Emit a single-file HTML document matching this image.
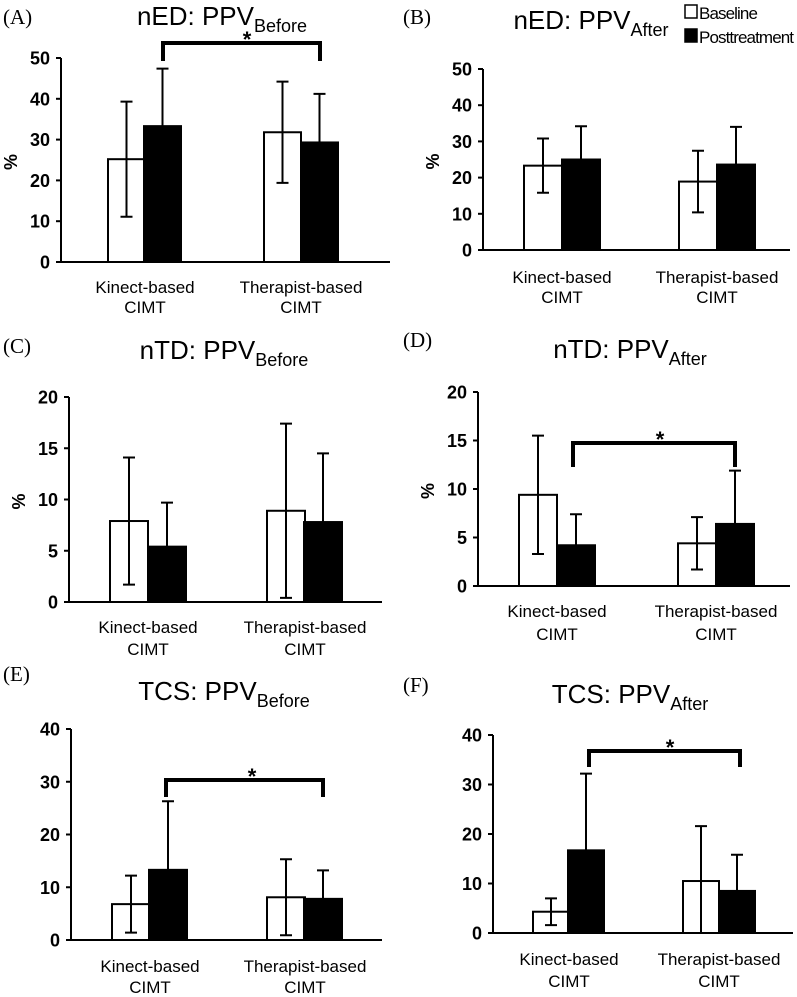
<!DOCTYPE html>
<html><head><meta charset="utf-8"><style>
body{margin:0;background:#fff;}
svg{display:block;font-family:"Liberation Sans",sans-serif;}
</style></head><body>
<svg id="fig" width="797" height="997" viewBox="0 0 797 997"></svg>
<script>
const categories = ["Kinect-based", "Therapist-based"];
const seriesNames = ["Baseline", "Posttreatment"];
// per panel: [baseline K, post K, baseline T, post T]
const valsA = [25.2, 33.3, 31.8, 29.3];
const errA  = [14.1, 14.1, 12.4, 11.9];
const valsB = [23.3, 25.0, 18.9, 23.6];
const errB  = [7.5, 9.2, 8.5, 10.4];
const valsC = [7.9, 5.4, 8.9, 7.8];
const errC  = [6.2, 4.3, 8.5, 6.7];
const valsD = [9.4, 4.2, 4.4, 6.4];
const errD  = [6.1, 3.2, 2.7, 5.5];
const valsE = [6.8, 13.3, 8.1, 7.8];
const errE  = [5.4, 13.0, 7.2, 5.4];
const valsF = [4.3, 16.7, 10.5, 8.5];
const errF  = [2.7, 15.5, 11.1, 7.3];
const ticksA = [0,10,20,30,40,50];
const ticksC = [0,5,10,15,20];
const ticksE = [0,10,20,30,40];

const NS="http://www.w3.org/2000/svg";
const svg=document.getElementById('fig');
function mk(tag,attrs,parent,text){const e=document.createElementNS(NS,tag);for(const k in attrs)e.setAttribute(k,attrs[k]);if(text!==undefined)e.textContent=text;(parent||svg).appendChild(e);return e;}

const panels=[
 {id:'a',letter:'(A)',lx:3,ly:24,main:'nED: PPV',sub:'Before',tx:222,ty:25,ax:61,ax2:390,y0:262,ytop:58,ymax:50,ticks:ticksA,vals:valsA,err:errA,bars:[108,144,264,301],bw:37,pct:true,lab:[293,313],br:{x1:163,x2:320,y:43,leg:61,sx:247,sy:47}},
 {id:'b',letter:'(B)',lx:403,ly:24,main:'nED: PPV',sub:'After',tx:591,ty:29,ax:483,ax2:790,y0:250,ytop:69,ymax:50,ticks:ticksA,vals:valsB,err:errB,bars:[524,562,679,717],bw:38,pct:true,lab:[283,303],legend:true},
 {id:'c',letter:'(C)',lx:3,ly:353,main:'nTD: PPV',sub:'Before',tx:224,ty:359,ax:69,ax2:382,y0:602,ytop:397,ymax:20,ticks:ticksC,vals:valsC,err:errC,bars:[110,148,267,304],bw:38,pct:true,lab:[633,655]},
 {id:'d',letter:'(D)',lx:403,ly:347,main:'nTD: PPV',sub:'After',tx:630,ty:358,ax:478,ax2:790,y0:586,ytop:392,ymax:20,ticks:ticksC,vals:valsD,err:errD,bars:[519,557,678,716],bw:38,pct:true,lab:[617,640],br:{x1:573,x2:735,y:443,leg:467,sx:660,sy:447}},
 {id:'e',letter:'(E)',lx:3,ly:681,main:'TCS: PPV',sub:'Before',tx:224,ty:700,ax:71,ax2:382,y0:940,ytop:729,ymax:40,ticks:ticksE,vals:valsE,err:errE,bars:[112,149,267,304],bw:38,pct:false,lab:[972,993],br:{x1:166,x2:323,y:780,leg:797,sx:252,sy:784}},
 {id:'f',letter:'(F)',lx:403,ly:692,main:'TCS: PPV',sub:'After',tx:630,ty:703,ax:493,ax2:793,y0:933,ytop:735,ymax:40,ticks:ticksE,vals:valsF,err:errF,bars:[533,568,683,719],bw:36,pct:false,lab:[965,987],br:{x1:589,x2:740,y:751,leg:767,sx:670,sy:755}}
];

panels.forEach(p=>{
  const g=mk('g',{});
  
  
  const ys=v=>p.y0-(v/p.ymax)*(p.y0-p.ytop);
  const lt=mk('text',{x:p.lx,y:p.ly,'font-family':'Liberation Serif,serif','font-size':21},g,p.letter);
  
  
  const t=mk('text',{x:p.tx,y:p.ty,'font-size':26,'text-anchor':'middle'},g);
  
  
  mk('tspan',{},t,p.main);
  mk('tspan',{'font-size':18,dy:7},t,p.sub);
  const ya=mk('line',{x1:p.ax,x2:p.ax,y1:p.ytop,y2:p.y0,stroke:'#000','stroke-width':2},g);
  
  
  p.ticks.forEach(tv=>{
    const y=ys(tv);
    mk('line',{x1:p.ax-5,x2:p.ax,y1:y,y2:y,stroke:'#000','stroke-width':2},g);
    const tl=mk('text',{x:p.ax-11,y:y+6.5,'font-size':18,'font-weight':'bold','text-anchor':'end'},g,String(tv));
    
    
  });
  if(p.pct){
    const cx=p.ax-44, cy=(p.y0+p.ytop)/2+2;
    const pt=mk('text',{x:cx,y:cy,'font-size':18,'font-weight':'bold','text-anchor':'middle',transform:`rotate(-90 ${cx} ${cy})`},g,'%');
    
    
  }
  p.vals.forEach((v,i)=>{
    const x=p.bars[i], y=ys(v), base=i%2===0;
    const r=mk('rect',{x:x,y:y,width:p.bw,height:p.y0-y,fill:base?'#fff':'#000',stroke:'#000','stroke-width':2},g);
    
    
    const cxm=x+p.bw/2, yt=ys(v+p.err[i]), yb=ys(Math.max(0,v-p.err[i]));
    const eb=mk('path',{d:`M${cxm},${base?yb:y}V${yt}M${cxm-6},${yt}H${cxm+6}`+(base?`M${cxm-6},${yb}H${cxm+6}`:''),stroke:'#000','stroke-width':2,fill:'none'},g);
    
    
  });
  const xa=mk('line',{x1:p.ax,x2:p.ax2,y1:p.y0,y2:p.y0,stroke:'#000','stroke-width':2},g);
  
  
  categories.forEach((c,k)=>{
    const cx=p.bars[k*2]+p.bw;
    const l1=mk('text',{x:cx,y:p.lab[0],'font-size':17,'text-anchor':'middle'},g,c);
    
    
    const l2=mk('text',{x:cx,y:p.lab[1],'font-size':17,'text-anchor':'middle'},g,'CIMT');
    
    
  });
  if(p.br){
    const b=p.br;
    const bp=mk('path',{d:`M${b.x1},${b.leg}V${b.y}H${b.x2}V${b.leg}`,stroke:'#000','stroke-width':4,fill:'none'},g);
    
    
    const st=mk('text',{x:b.sx,y:b.sy,'font-size':22,'font-weight':'bold','text-anchor':'middle'},g,'*');
    
    
  }
  if(p.legend){
    seriesNames.forEach((s,k)=>{
      const y=5+k*24;
      const sw=mk('rect',{x:685,y:y,width:12,height:13,fill:k?'#000':'#fff',stroke:'#000','stroke-width':1.5},g);
      
      
      const lt2=mk('text',{x:699,y:y+14,'font-size':17,'letter-spacing':'-0.9'},g,s);
      
      
    });
  }
});
</script>
</body></html>
